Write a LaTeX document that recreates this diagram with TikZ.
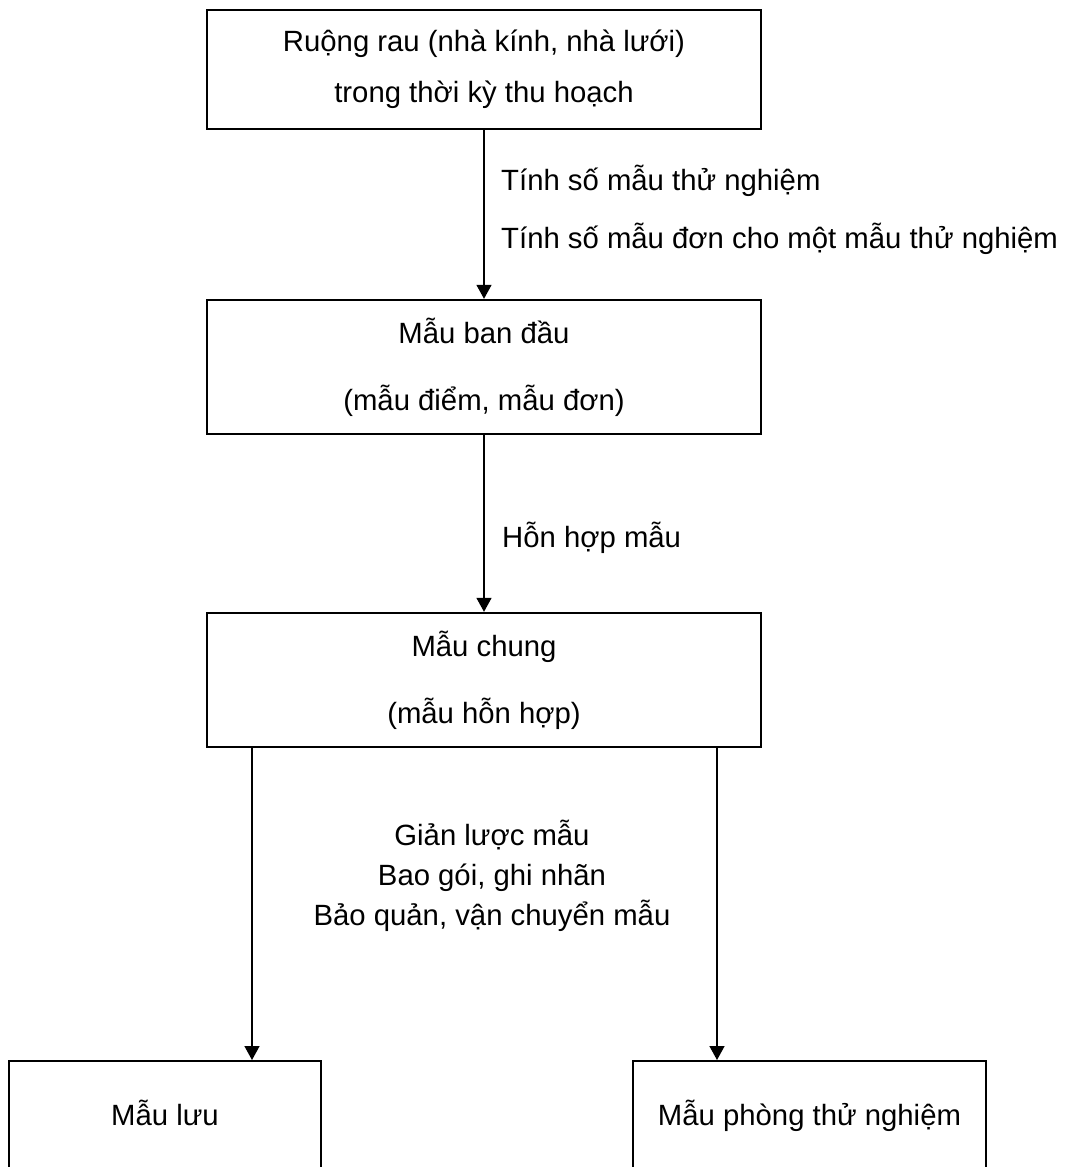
\documentclass[tikz,border=0pt]{standalone}
\usepackage{fontspec}
\setmainfont{Liberation Sans}
\usetikzlibrary{arrows.meta}
\tikzset{
  box/.style={draw, line width=2.4pt, inner sep=0pt, align=center},
  arr/.style={line width=1.5pt, -{Triangle[length=14pt,width=15pt]}},
  lbl/.style={inner sep=0pt, anchor=base west},
  clbl/.style={inner sep=0pt, anchor=base},
}
\newcommand{\bigtext}{\fontsize{29.3}{51}\selectfont}
\newcommand{\widetext}{\fontsize{29.3}{67}\selectfont}
\begin{document}
\begin{tikzpicture}[x=1pt,y=-1pt]
\clip (0,0) rectangle (1065,1167);
\useasboundingbox (0,0) rectangle (1065,1167);
\fill[white] (0,0) rectangle (1065,1167);

\node[box, minimum width=554pt, minimum height=119pt, font=\bigtext] (ruong) at (484,69.5)
  {Ruộng rau (nhà kính, nhà lưới)\\trong thời kỳ thu hoạch};
\node[box, minimum width=554pt, minimum height=134pt, font=\widetext] (bandau) at (484,367)
  {Mẫu ban đầu\\(mẫu điểm, mẫu đơn)};
\node[box, minimum width=554pt, minimum height=134pt, font=\widetext] (chung) at (484,680)
  {Mẫu chung\\(mẫu hỗn hợp)};

\node[box, minimum width=312pt, minimum height=240pt, anchor=north] (luu) at (165,1060) {};
\node[box, minimum width=353pt, minimum height=240pt, anchor=north] (ptn) at (809.5,1060) {};
\node[clbl, font=\bigtext] (luut) at (165,1125) {Mẫu lưu};
\node[clbl, font=\bigtext] (ptnt) at (809.5,1125) {Mẫu phòng thử nghiệm};

\draw[arr] (ruong.south) -- (bandau.north);
\draw[arr] (bandau.south) -- (chung.north);
\coordinate (la) at (252,747);
\coordinate (ra) at (717,747);
\draw[arr] (la) -- (la |- luu.north);
\draw[arr] (ra) -- (ra |- ptn.north);

\node[lbl, font=\bigtext] (l1) at (501,190) {Tính số mẫu thử nghiệm};
\node[lbl, font=\bigtext] (l2) at (501,248) {Tính số mẫu đơn cho một mẫu thử nghiệm};
\node[lbl, font=\bigtext] (l3) at (502,547) {Hỗn hợp mẫu};
\node[clbl, font=\bigtext] (l4) at (492,845) {Giản lược mẫu};
\node[clbl, font=\bigtext] (l5) at (492,885) {Bao gói, ghi nhãn};
\node[clbl, font=\bigtext] (l6) at (492,925) {Bảo quản, vận chuyển mẫu};
\end{tikzpicture}
\end{document}
